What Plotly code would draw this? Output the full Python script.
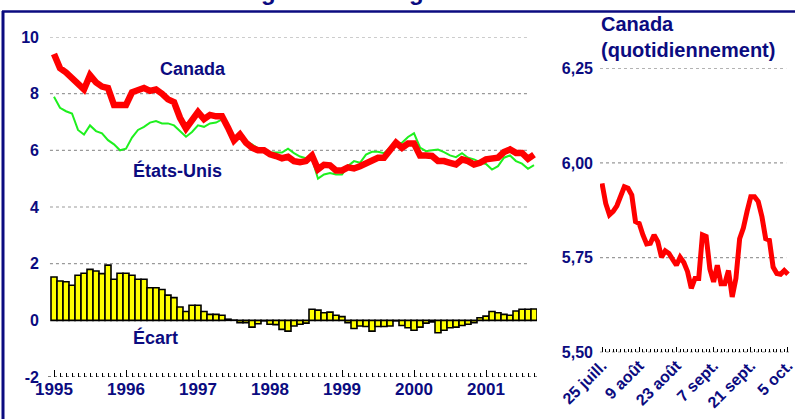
import plotly.graph_objects as go

W, H = 809, 419
NAVY = "#0b0b80"
FONT = "Liberation Sans, Arial, sans-serif"

# ---------------- data ----------------
year_labels = ["1995", "1996", "1997", "1998", "1999", "2000", "2001"]

canada_monthly = [
    9.40, 8.90, 8.75, 8.55, 8.30, 8.15, 8.65, 8.40, 8.25, 8.20, 7.60, 7.60,
    7.60, 8.05, 8.10, 8.20, 8.10, 8.15, 8.00, 7.80, 7.70, 7.15, 6.77, 7.05,
    7.35, 7.10, 7.25, 7.20, 7.20, 6.80, 6.35, 6.56, 6.27, 6.09, 6.00, 6.00,
    5.86, 5.80, 5.72, 5.77, 5.62, 5.58, 5.62, 5.82, 5.33, 5.49, 5.47, 5.29,
    5.29, 5.40, 5.36, 5.44, 5.56, 5.66, 5.74, 5.74, 5.97, 6.27, 6.09, 6.24,
    6.24, 5.82, 5.82, 5.80, 5.62, 5.62, 5.56, 5.50, 5.68, 5.62, 5.50, 5.56,
    5.68, 5.70, 5.74, 5.94, 6.03, 5.91, 5.91, 5.70, 5.85,
]

usa_monthly = [
    7.89, 7.50, 7.38, 7.30, 6.72, 6.56, 6.88, 6.68, 6.60, 6.36, 6.21, 6.00,
    6.06, 6.45, 6.72, 6.83, 6.98, 7.03, 6.95, 6.95, 6.88, 6.68, 6.48, 6.65,
    6.88, 6.83, 6.95, 6.98, 7.09, 6.75, 6.40, 6.55, 6.32, 6.21, 6.06, 5.98,
    5.92, 5.92, 5.92, 6.06, 5.90, 5.78, 5.72, 5.70, 5.00, 5.15, 5.20, 5.15,
    5.15, 5.45, 5.62, 5.56, 5.85, 5.95, 5.95, 5.90, 6.10, 6.25, 6.27, 6.47,
    6.60, 6.10, 5.97, 6.00, 6.03, 5.94, 5.82, 5.76, 5.90, 5.74, 5.68, 5.58,
    5.52, 5.32, 5.44, 5.74, 5.82, 5.62, 5.53, 5.35, 5.48,
]

ecart_monthly = [
    1.53, 1.39, 1.36, 1.24, 1.59, 1.66, 1.80, 1.74, 1.65, 1.95, 1.45, 1.66,
    1.66, 1.59, 1.45, 1.45, 1.15, 1.15, 1.09, 0.89, 0.80, 0.47, 0.31, 0.53,
    0.53, 0.31, 0.21, 0.21, 0.18, 0.04, 0.01, -0.08, -0.08, -0.24, -0.12, -0.02,
    -0.14, -0.15, -0.32, -0.38, -0.20, -0.14, -0.10, 0.39, 0.36, 0.27, 0.29, 0.18,
    0.13, -0.08, -0.29, -0.20, -0.22, -0.38, -0.22, -0.22, -0.20, -0.02, -0.18, -0.26,
    -0.35, -0.24, -0.10, -0.06, -0.44, -0.35, -0.26, -0.24, -0.18, -0.14, -0.08, 0.09,
    0.15, 0.31, 0.27, 0.21, 0.18, 0.33, 0.39, 0.39, 0.40,
]

canada_daily = [
    5.946, 5.893, 5.863, 5.872, 5.887, 5.910, 5.937, 5.933, 5.915, 5.845,
    5.840, 5.810, 5.786, 5.788, 5.810, 5.792, 5.751, 5.768, 5.761, 5.745,
    5.730, 5.751, 5.737, 5.713, 5.669, 5.695, 5.695, 5.810, 5.806, 5.720,
    5.686, 5.730, 5.681, 5.681, 5.716, 5.646, 5.695, 5.800, 5.828, 5.872,
    5.911, 5.911, 5.898, 5.858, 5.800, 5.796, 5.725, 5.708, 5.706, 5.716,
    5.706,
]
daily_labels = ["25 juill.", "9 août", "23 août", "7 sept.", "21 sept.", "5 oct."]

left_y_ticks = [-2, 0, 2, 4, 6, 8, 10]
right_y_ticks = [5.50, 5.75, 6.00, 6.25]

# ---------------- helpers ----------------
def px_x(p):
    return p / W

def px_y(p):
    return 1 - p / H

months = list(range(len(canada_monthly)))
days = list(range(len(canada_daily)))

fig = go.Figure()

fig.add_trace(go.Bar(
    x=months, y=ecart_monthly, width=1.0,
    marker=dict(color="#ffff00", line=dict(color="black", width=1.6)),
    xaxis="x", yaxis="y", showlegend=False, hoverinfo="skip",
))
fig.add_trace(go.Scatter(
    x=months, y=usa_monthly, mode="lines",
    line=dict(color="#1ef01e", width=2),
    xaxis="x", yaxis="y", showlegend=False,
))
fig.add_trace(go.Scatter(
    x=months, y=canada_monthly, mode="lines",
    line=dict(color="#ff0000", width=6.5),
    xaxis="x", yaxis="y", showlegend=False,
))
fig.add_trace(go.Scatter(
    x=days, y=canada_daily, mode="lines",
    line=dict(color="#ff0000", width=5),
    xaxis="x2", yaxis="y2", showlegend=False,
))

tickfont = dict(family=FONT, size=16, color=NAVY)

fig.update_layout(
    template="none",
    width=W, height=H,
    margin=dict(l=0, r=0, t=0, b=0, pad=0, autoexpand=False),
    paper_bgcolor="white", plot_bgcolor="rgba(0,0,0,0)",
    bargap=0,
    xaxis=dict(
        domain=[px_x(48), px_x(537)], range=[-1, 80.5], automargin=False,
        tickmode="array", tickvals=[0, 12, 24, 36, 48, 60, 72],
        ticktext=["<b>%s</b>" % t for t in year_labels],
        ticks="inside", ticklen=7, tickwidth=1, tickcolor="black",
        minor=dict(tickmode="linear", tick0=0, dtick=1, ticks="inside",
                   ticklen=4, tickcolor="black", tickwidth=1, showgrid=False),
        showgrid=False, zeroline=False, showline=False,
        tickfont=dict(family=FONT, size=17, color=NAVY),
        anchor="y",
    ),
    yaxis=dict(
        domain=[px_y(377), px_y(37)], range=[-2, 10], automargin=False,
        tickmode="array", tickvals=left_y_ticks,
        ticktext=["<b>%d</b>" % v for v in left_y_ticks],
        ticks="", showgrid=False, zeroline=False, showline=False,
        tickfont=tickfont, ticklabelstandoff=8,
        anchor="x",
    ),
    xaxis2=dict(
        domain=[px_x(600), px_x(790)], range=[-0.54, 50.54], automargin=False,
        tickmode="array", tickvals=[0, 10, 20, 30, 40, 50],
        ticktext=["<b>%s</b>" % t for t in daily_labels],
        tickangle=-45,
        ticks="inside", ticklen=5, tickwidth=1, tickcolor="black",
        minor=dict(tickmode="linear", tick0=0, dtick=1, ticks="inside",
                   ticklen=3, tickcolor="black", tickwidth=1, showgrid=False),
        showgrid=False, zeroline=False, showline=False,
        tickfont=dict(family=FONT, size=16, color=NAVY),
        anchor="y2",
    ),
    yaxis2=dict(
        domain=[px_y(352.3), px_y(68.3)], range=[5.5, 6.25], automargin=False,
        tickmode="array", tickvals=right_y_ticks,
        ticktext=["<b>%s</b>" % ("%.2f" % v).replace(".", ",") for v in right_y_ticks],
        ticks="", showgrid=False, zeroline=False, showline=False,
        tickfont=tickfont, ticklabelstandoff=6,
        anchor="x2",
    ),
)

shapes = []
# left gridlines
for v in [2, 4, 6, 8, 10]:
    shapes.append(dict(type="line", xref="x domain", yref="y",
                       x0=0.004, x1=0.984, y0=v, y1=v,
                       line=dict(color="#9a9a9a", width=1.2, dash="dot"), layer="below"))
shapes.append(dict(type="line", xref="x domain", yref="y",
                   x0=0.0, x1=1.0, y0=-2, y1=-2,
                   line=dict(color="black", width=1, dash="dot")))
# right gridlines
for v in [5.75, 6.00, 6.25]:
    shapes.append(dict(type="line", xref="x2 domain", yref="y2",
                       x0=0.0, x1=0.98, y0=v, y1=v,
                       line=dict(color="#9a9a9a", width=1.2, dash="dot"), layer="below"))
shapes.append(dict(type="line", xref="x2 domain", yref="y2",
                   x0=0.0, x1=1.0, y0=5.5, y1=5.5,
                   line=dict(color="black", width=1, dash="dot")))
# frame
shapes.append(dict(type="line", xref="paper", yref="paper",
                   x0=px_x(3), x1=px_x(3), y0=px_y(11), y1=0,
                   line=dict(color=NAVY, width=3)))
shapes.append(dict(type="line", xref="paper", yref="paper",
                   x0=px_x(2), x1=px_x(795), y0=px_y(11.5), y1=px_y(11.5),
                   line=dict(color=NAVY, width=2.5)))
fig.update_layout(shapes=shapes)

def ann(text, x, y, size, xanchor="center", yanchor="middle", align="center"):
    return dict(text=text, xref="paper", yref="paper", x=px_x(x), y=px_y(y),
                xanchor=xanchor, yanchor=yanchor, align=align, showarrow=False,
                font=dict(family=FONT, size=size, color=NAVY))

fig.update_layout(annotations=[
    ann("<b>Rendement des obligations à long terme</b>", 31, 7, 24,
        xanchor="left", yanchor="bottom", align="left"),
    ann("<b>Canada</b>", 193, 69, 18),
    ann("<b>États-Unis</b>", 177, 170, 18),
    ann("<b>Écart</b>", 155, 337, 18),
    ann("<b>Canada<br>(quotidiennement)</b>", 599, 11, 20,
        xanchor="left", yanchor="top", align="left"),
])

fig.write_html(
    "out.html",
    config={"displayModeBar": False, "staticPlot": True},
    post_script="document.body.style.margin='0';document.body.style.overflow='hidden';",
)
